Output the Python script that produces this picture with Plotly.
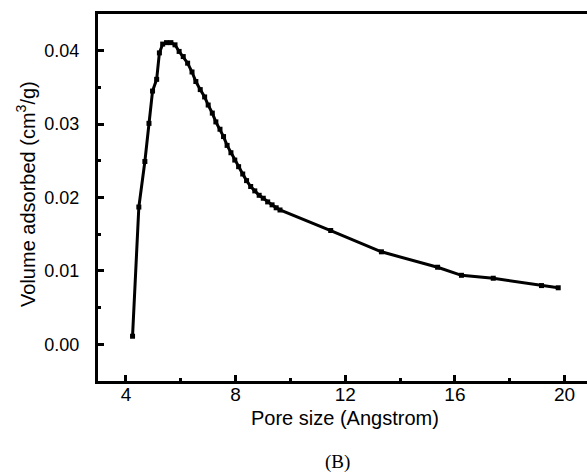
import plotly.graph_objects as go

pore_size = [4.24, 4.47, 4.69, 4.84, 4.97, 5.12, 5.22, 5.34, 5.48, 5.64, 5.79, 5.94,
             6.09, 6.25, 6.41, 6.55, 6.71, 6.87, 7.00, 7.15, 7.28, 7.43, 7.56, 7.69,
             7.83, 7.97, 8.11, 8.26, 8.40, 8.55, 8.70, 8.86, 9.01, 9.17, 9.33, 9.48,
             9.62, 11.47, 13.32, 15.37, 16.24, 17.40, 19.16, 19.77]
volume = [0.0011, 0.0187, 0.0249, 0.0301, 0.0345, 0.0361, 0.0397, 0.0409, 0.0411, 0.0411,
          0.0408, 0.0399, 0.0392, 0.0383, 0.0371, 0.0358, 0.0347, 0.0337, 0.0326, 0.0315,
          0.0303, 0.0293, 0.0283, 0.0271, 0.0261, 0.0251, 0.0242, 0.0232, 0.0223, 0.0215,
          0.0209, 0.0203, 0.0199, 0.0194, 0.0190, 0.0186, 0.0183, 0.0155, 0.0126, 0.0105,
          0.0094, 0.0090, 0.0080, 0.0077]

x_ticks = [4, 8, 12, 16, 20]
y_ticks = [0.00, 0.01, 0.02, 0.03, 0.04]

FONT = "Liberation Sans, Arial, sans-serif"

fig = go.Figure()
fig.add_trace(go.Scatter(
    x=pore_size, y=volume, mode="lines+markers",
    line=dict(color="black", width=3),
    marker=dict(symbol="square", size=5, color="black"),
    showlegend=False,
))

fig.update_layout(
    width=587, height=476,
    margin=dict(l=98, r=0, t=14, b=95),
    paper_bgcolor="white", plot_bgcolor="white",
    font=dict(family=FONT, size=19, color="black"),
    xaxis=dict(
        range=[2.98, 20.82], tickvals=x_ticks, ticktext=[str(v) for v in x_ticks],
        ticks="inside", ticklen=6, tickwidth=2.5, tickcolor="black",
        minor=dict(ticks="inside", ticklen=3, tickwidth=2.5, tickcolor="black", dtick=2, tick0=0),
        showline=True, linewidth=3, linecolor="black", mirror=True,
        showgrid=False, zeroline=False,
        tickfont=dict(size=19, family=FONT),
        ticklabelstandoff=-6,
    ),
    yaxis=dict(
        range=[-0.005, 0.045], tickvals=y_ticks, ticktext=[f"{v:.2f}" for v in y_ticks],
        ticks="inside", ticklen=6, tickwidth=2.5, tickcolor="black",
        minor=dict(ticks="inside", ticklen=3, tickwidth=2.5, tickcolor="black", dtick=0.005, tick0=0),
        showline=True, linewidth=3, linecolor="black", mirror=False,
        showgrid=False, zeroline=False,
        tickfont=dict(size=18, family=FONT),
        ticklabelstandoff=12,
    ),
    annotations=[
        dict(text="Pore size (Angstrom)", xref="paper", yref="paper", x=0.505, y=-0.1,
             xanchor="center", yanchor="middle", showarrow=False,
             font=dict(size=20, family=FONT)),
        dict(text="Volume adsorbed (cm<sup>3</sup>/g)", xref="paper", yref="paper",
             x=-0.147, y=0.51, xanchor="center", yanchor="middle", textangle=-90,
             showarrow=False, font=dict(size=20, family=FONT)),
        dict(text="(B)", xref="paper", yref="paper", x=0.49, y=-0.222,
             xanchor="center", yanchor="middle", showarrow=False,
             font=dict(size=19, family="Liberation Serif, Times New Roman, serif")),
    ],
)

fig.write_html("out.html")
